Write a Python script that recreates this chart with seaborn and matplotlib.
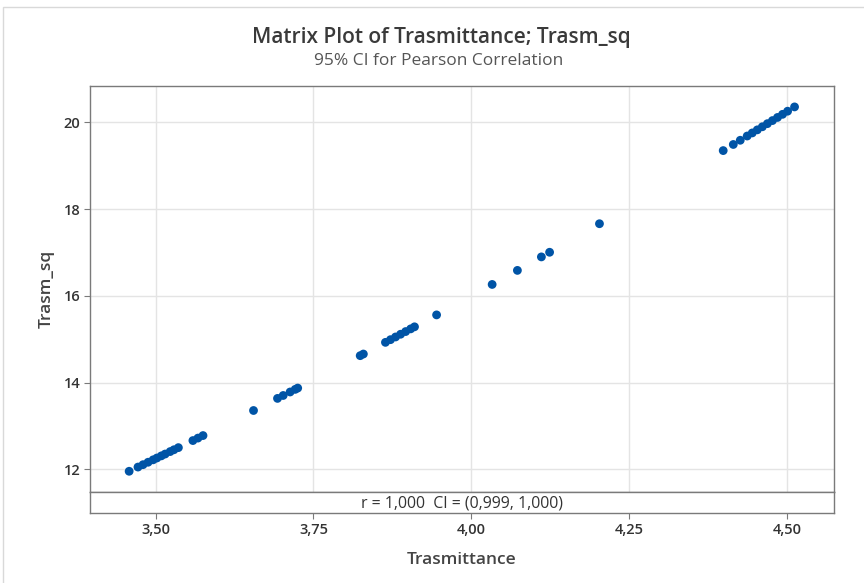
import numpy as np
import pandas as pd
import matplotlib
matplotlib.use("Agg")
import matplotlib.pyplot as plt
import matplotlib.ticker as mticker
from matplotlib.patches import Rectangle
import seaborn as sns

# valori
trasmittance = [3.458, 3.472, 3.480, 3.488, 3.496, 3.502, 3.509, 3.515, 3.523, 3.529, 3.536,
                3.559, 3.567, 3.575,
                3.655, 3.693, 3.702, 3.713, 3.721, 3.725,
                3.824, 3.829,
                3.864, 3.872, 3.880, 3.888, 3.896, 3.904, 3.910,
                3.945,
                4.033, 4.073, 4.111, 4.124, 4.203,
                4.399, 4.415, 4.426, 4.437, 4.445, 4.453, 4.461, 4.469, 4.477, 4.485,
                4.493, 4.501, 4.512]
trasm_sq = [11.958, 12.055, 12.110, 12.166, 12.222, 12.264, 12.313, 12.355, 12.412, 12.454, 12.503,
            12.666, 12.723, 12.781,
            13.359, 13.638, 13.705, 13.786, 13.846, 13.876,
            14.623, 14.661,
            14.930, 14.992, 15.054, 15.117, 15.179, 15.241, 15.288,
            15.563,
            16.265, 16.589, 16.900, 17.007, 17.665,
            19.351, 19.492, 19.589, 19.687, 19.758, 19.829, 19.900, 19.972, 20.043, 20.115,
            20.187, 20.259, 20.358]
x_ticks = [3.50, 3.75, 4.00, 4.25, 4.50]
y_ticks = [12, 14, 16, 18, 20]
corr_text = "r = 1,000  CI = (0,999, 1,000)"

df = pd.DataFrame({"Trasmittance": trasmittance, "Trasm_sq": trasm_sq})

sns.set_style("white")
plt.rcParams['font.family'] = ['Open Sans', 'DejaVu Sans']

fig = plt.figure(figsize=(8.64, 5.83), dpi=100)
frame_col = "#7a7a7a"
grid_col = "#e4e4e4"
text_col = "#333333"

# cornice esterna leggera
fig.patches.append(Rectangle((3 / 864, -0.1), 1.2, 1 - 7 / 583 + 0.1, transform=fig.transFigure,
                             fill=False, edgecolor="#d9d9d9", linewidth=1))

ax = fig.add_axes([90 / 864, 1 - 492 / 583, 744 / 864, 406 / 583])
band = fig.add_axes([90 / 864, 1 - 513 / 583, 744 / 864, 21 / 583], sharex=ax)

sns.scatterplot(data=df, x="Trasmittance", y="Trasm_sq", ax=ax, color="#0054a6",
                s=40, edgecolor="none", zorder=3)

ax.set_xlim(3.396, 4.5745)
ax.set_ylim(11.48, 20.84)
ax.set_xticks(x_ticks)
ax.set_yticks(y_ticks)
ax.grid(True, color=grid_col, linewidth=1)
ax.set_axisbelow(True)
ax.tick_params(axis="x", bottom=False, labelbottom=False)
ax.tick_params(axis="y", left=True, length=4, color=frame_col, labelsize=10.5, labelcolor=text_col, pad=3)
for lab in ax.get_yticklabels():
    lab.set_fontweight("semibold")
ax.set_xlabel("")
ax.set_ylabel("Trasm_sq", fontsize=12.5, color="#444444", fontweight="semibold", labelpad=6)
for sp in ax.spines.values():
    sp.set_color(frame_col)
    sp.set_linewidth(1)

fmt = mticker.FuncFormatter(lambda v, p: f"{v:.2f}".replace(".", ","))
band.xaxis.set_major_formatter(fmt)
band.set_yticks([])
band.tick_params(axis="x", bottom=True, length=4, color=frame_col, labelsize=10.5, labelcolor=text_col, pad=3)
for lab in band.get_xticklabels():
    lab.set_fontweight("semibold")
band.set_xlabel("Trasmittance", fontsize=12.5, color="#444444", fontweight="semibold", labelpad=11)
for sp in band.spines.values():
    sp.set_color(frame_col)
    sp.set_linewidth(1)
band.text(0.5, 0.45, corr_text, transform=band.transAxes, ha="center", va="center",
          fontsize=11.4, color=text_col)

fig.text(441 / 864, 1 - 38 / 583, "Matrix Plot of Trasmittance; Trasm_sq", ha="center", va="center",
         fontsize=15, color="#3a3a3a", fontweight="semibold")
fig.text(439 / 864, 1 - 61 / 583, "95% CI for Pearson Correlation", ha="center", va="center",
         fontsize=12.5, color="#555555")

fig.savefig("out.png", dpi=100)
